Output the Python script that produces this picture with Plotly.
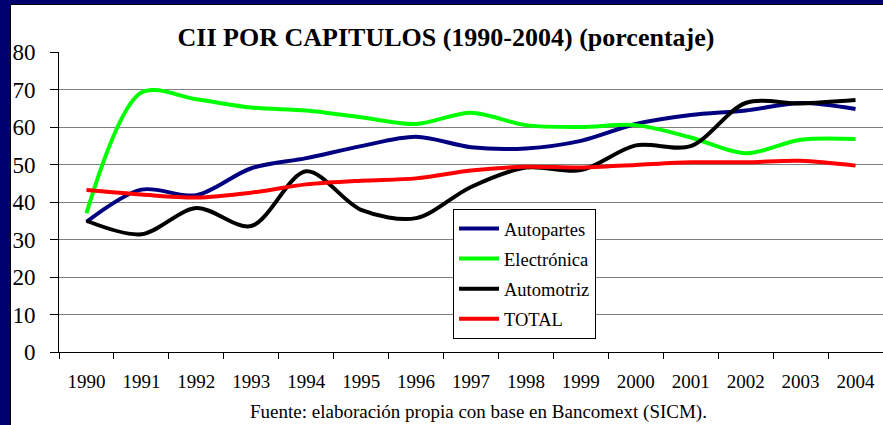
import plotly.graph_objects as go

years = ["1990", "1991", "1992", "1993", "1994", "1995", "1996", "1997",
         "1998", "1999", "2000", "2001", "2002", "2003", "2004"]

autopartes = [34.7, 43.3, 41.8, 49.0, 51.7, 54.9, 57.4, 54.6, 54.3, 56.3, 60.8, 63.2, 64.4, 66.4, 64.8]
electronica = [37.0, 69.2, 67.4, 65.2, 64.4, 62.6, 60.8, 63.8, 60.5, 60.0, 60.5, 57.2, 53.0, 56.6, 56.8]
automotriz = [35.0, 31.4, 38.4, 33.6, 48.2, 37.9, 35.7, 44.0, 49.2, 48.5, 55.1, 54.9, 66.4, 66.3, 67.2]
total = [43.2, 42.0, 41.2, 42.5, 44.7, 45.7, 46.3, 48.4, 49.4, 49.2, 49.9, 50.6, 50.6, 51.0, 49.7]

series = [
    ("Autopartes", autopartes, "#000080"),
    ("Electrónica", electronica, "#00FF00"),
    ("Automotriz", automotriz, "#000000"),
    ("TOTAL", total, "#FF0000"),
]

W, H = 883, 425
L, R, T, B = 59, 0, 52, 73
PW = W - L - R
PH = H - T - B

def px(x):
    return (x - L) / PW

def py(y):
    return (H - B - y) / PH

fig = go.Figure()
for name, vals, col in series:
    fig.add_trace(go.Scatter(
        x=years, y=vals, name=name, mode="lines",
        line=dict(color=col, width=4, shape="spline", smoothing=0.9),
        legendgroup=name,
    ))

serif = "'Liberation Serif', 'Times New Roman', serif"

fig.update_layout(
    width=W, height=H,
    margin=dict(l=L, r=R, t=T, b=B, pad=0),
    paper_bgcolor="#00006E",
    plot_bgcolor="white",
    font=dict(family=serif, color="black"),
    title=dict(
        text="<b>CII POR CAPITULOS (1990-2004) (porcentaje)</b>",
        font=dict(family=serif, size=26, color="black"),
        x=px(446), xref="paper", xanchor="center",
        y=1 - 37 / H, yref="container", yanchor="middle",
    ),
    xaxis=dict(
        type="category",
        range=[-0.5, len(years) - 0.5],
        showgrid=False,
        showline=True, linecolor="black", linewidth=1,
        ticks="outside", tickson="boundaries", ticklen=6, tickcolor="black",
        tickfont=dict(family=serif, size=19, color="black"),
        ticklabelstandoff=12,
    ),
    yaxis=dict(
        range=[0, 80], dtick=10,
        showgrid=True, gridcolor="#808080", gridwidth=1,
        zeroline=False,
        showline=True, linecolor="black", linewidth=1,
        ticks="outside", ticklen=8, tickcolor="black",
        tickfont=dict(family=serif, size=23, color="black"),
        ticklabelstandoff=10,
    ),
    legend=dict(
        x=px(453), y=py(209), xanchor="left", yanchor="top",
        bgcolor="white", bordercolor="black", borderwidth=1,
        font=dict(family=serif, size=18.5, color="black"),
        tracegroupgap=3,
        itemwidth=40,
    ),
    showlegend=True,
    shapes=[
        dict(type="rect", xref="paper", yref="paper",
             x0=px(10.5), x1=px(W + 5), y0=py(4.5), y1=py(H + 5),
             fillcolor="white", line=dict(color="black", width=1),
             layer="below"),
    ],
    annotations=[
        dict(text="Fuente: elaboración propia con base en Bancomext (SICM).",
             xref="paper", yref="paper", x=px(478), y=py(412),
             xanchor="center", yanchor="middle", showarrow=False,
             font=dict(family=serif, size=19, color="black")),
    ],
)

fig.write_html("out.html", config={"displayModeBar": False},
               post_script="document.body.style.margin='0';document.body.style.overflow='hidden';")
